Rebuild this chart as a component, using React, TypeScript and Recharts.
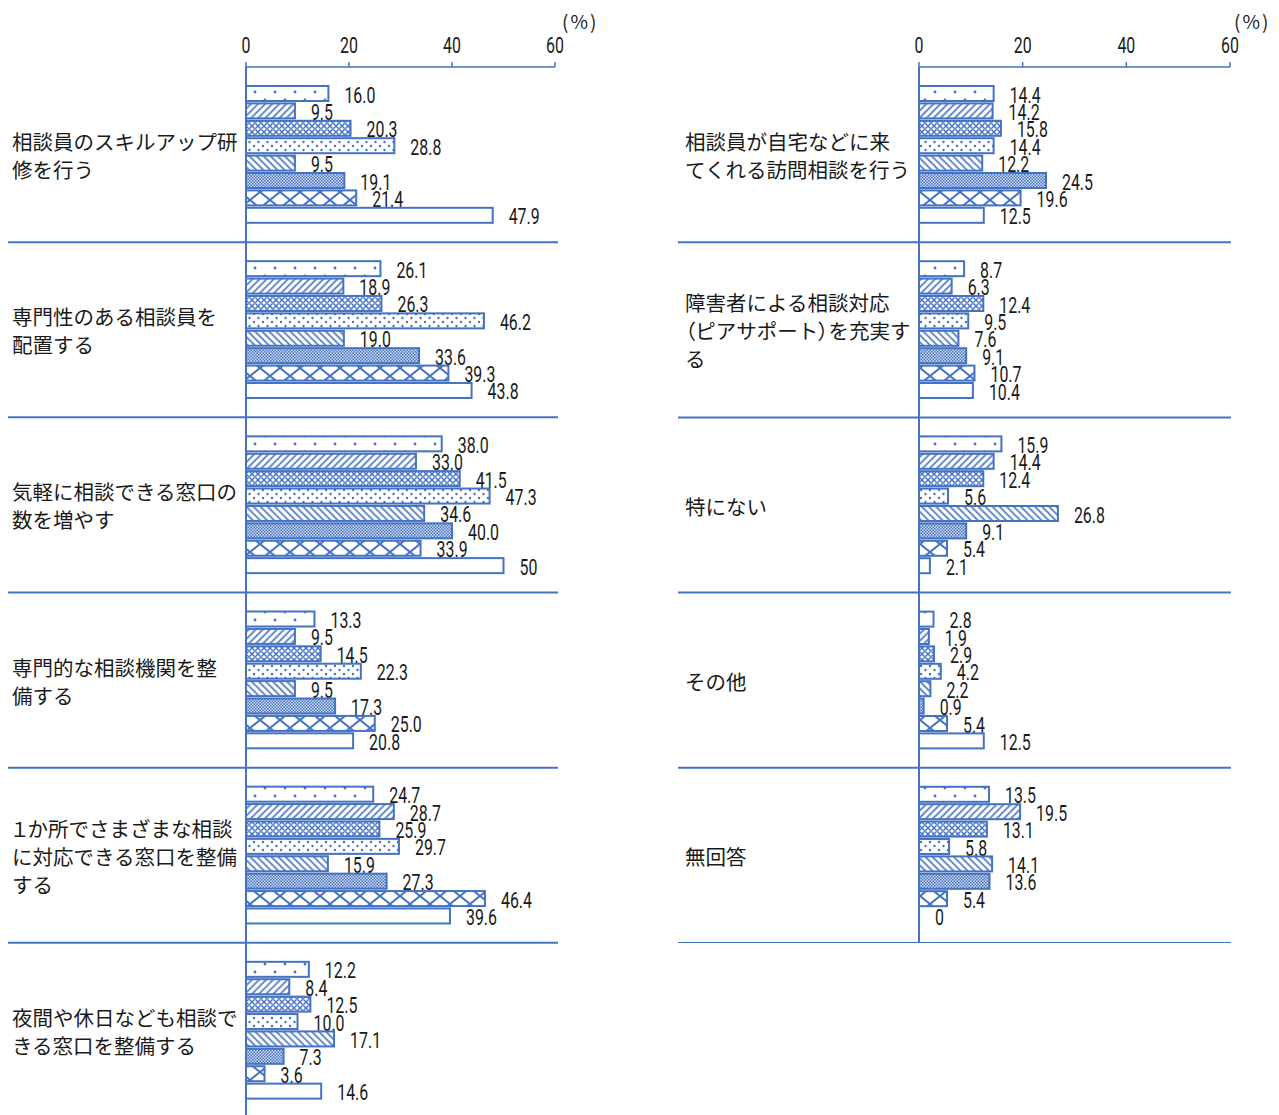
import { BarChart, Bar, XAxis, YAxis } from 'recharts';

const SERIES = ['s1', 's2', 's3', 's4', 's5', 's6', 's7', 's8'];
const PATTERNS = ['dotSparse', 'diagFwd', 'meshSmall', 'dotDense', 'diagBack', 'checker', 'meshLarge', 'plain'];
const AXIS_TICKS = [0, 20, 40, 60];

const LEFT_CATEGORIES = [
  '相談員のスキルアップ研\n修を行う',
  '専門性のある相談員を\n配置する',
  '気軽に相談できる窓口の\n数を増やす',
  '専門的な相談機関を整\n備する',
  '１か所でさまざまな相談\nに対応できる窓口を整備\nする',
  '夜間や休日なども相談で\nきる窓口を整備する',
];
const LEFT_VALUES = [
  [16.0, 9.5, 20.3, 28.8, 9.5, 19.1, 21.4, 47.9],
  [26.1, 18.9, 26.3, 46.2, 19.0, 33.6, 39.3, 43.8],
  [38.0, 33.0, 41.5, 47.3, 34.6, 40.0, 33.9, 50],
  [13.3, 9.5, 14.5, 22.3, 9.5, 17.3, 25.0, 20.8],
  [24.7, 28.7, 25.9, 29.7, 15.9, 27.3, 46.4, 39.6],
  [12.2, 8.4, 12.5, 10.0, 17.1, 7.3, 3.6, 14.6],
];

const RIGHT_CATEGORIES = [
  '相談員が自宅などに来\nてくれる訪問相談を行う',
  '障害者による相談対応\n（ピアサポート）を充実す\nる',
  '特にない',
  'その他',
  '無回答',
];
const RIGHT_VALUES = [
  [14.4, 14.2, 15.8, 14.4, 12.2, 24.5, 19.6, 12.5],
  [8.7, 6.3, 12.4, 9.5, 7.6, 9.1, 10.7, 10.4],
  [15.9, 14.4, 12.4, 5.6, 26.8, 9.1, 5.4, 2.1],
  [2.8, 1.9, 2.9, 4.2, 2.2, 0.9, 5.4, 12.5],
  [13.5, 19.5, 13.1, 5.8, 14.1, 13.6, 5.4, 0],
];

const BLUE = '#4472c4';
const BAND = 175.2;
const NUM_FONT = 'Roboto, "Liberation Sans", sans-serif';
const JP_FONT = '"Noto Sans CJK JP", "Noto Sans", sans-serif';

const toRows = (cats: string[], vals: number[][]) =>
  cats.map((name, i) => {
    const row: Record<string, any> = { name };
    SERIES.forEach((k, j) => (row[k] = vals[i][j]));
    return row;
  });

// 50 and 0 are printed without decimals in the original
const fmt = (v: number) => (v === 0 || v === 50 ? String(v) : v.toFixed(1));

// bar rect + its value label (a zero-width bar still gets its "0")
const BarWithLabel = (props: any) => {
  const { x, y, width, height, fill, payload, k } = props;
  const w = Math.max(0, Number(width) || 0);
  const tx = Number(x) + w + 16;
  const ty = Number(y) + Number(height) / 2 + 9;
  return (
    <g>
      {w > 0 && <rect x={x} y={y} width={w} height={height} fill={fill} stroke={BLUE} strokeWidth={2} />}
      <text transform={`translate(${tx},${ty}) scale(0.74,1)`} fontSize={21.5} fontFamily={NUM_FONT} fill="#1a1a1a">
        {fmt(Number(payload[k]))}
      </text>
    </g>
  );
};

const AxisTick = (props: any) => {
  const { x, payload } = props;
  return (
    <text transform={`translate(${x},53) scale(0.74,1)`} textAnchor="middle" fontSize={21.5} fontFamily={NUM_FONT} fill="#1a1a1a">
      {payload.value}
    </text>
  );
};

const CategoryTick = (props: any) => {
  const { y, payload, labelX, lineX1, lineX2 } = props;
  const lines = String(payload.value).split('\n');
  const top = y + 2 - ((lines.length - 1) * 28) / 2;
  return (
    <g>
      {lines.map((t, i) => (
        <text key={i} x={labelX} y={top + i * 28 + 7.5} fontSize={20.5} fontFamily={JP_FONT} fill="#1a1a1a">
          {t.split(/([（）１])/).map((part, j) =>
            part === '（' || part === '）' || part === '１' ? (
              <tspan key={j} style={{ fontFeatureSettings: '"palt"' }}>{part}</tspan>
            ) : (
              part
            )
          )}
        </text>
      ))}
      <line x1={lineX1} x2={lineX2} y1={y + BAND / 2} y2={y + BAND / 2} stroke={BLUE} strokeWidth={2} />
    </g>
  );
};

const Patterns = () => (
  <svg width={0} height={0} style={{ position: 'absolute' }}>
    <defs>
      <pattern id="dotSparse" patternUnits="userSpaceOnUse" width={20} height={16}>
        <rect width={20} height={16} fill="#fff" />
        <circle cx={5} cy={4} r={1.4} fill={BLUE} />
        <circle cx={15} cy={12} r={1.4} fill={BLUE} />
      </pattern>
      <pattern id="diagFwd" patternUnits="userSpaceOnUse" width={5} height={5} patternTransform="rotate(45)">
        <rect width={5} height={5} fill="#fff" />
        <line x1={1} y1={0} x2={1} y2={5} stroke={BLUE} strokeWidth={1.6} />
      </pattern>
      <pattern id="meshSmall" patternUnits="userSpaceOnUse" width={6} height={6}>
        <rect width={6} height={6} fill="#fff" />
        <path d="M0 0 L6 6 M6 0 L0 6" stroke={BLUE} strokeWidth={1.4} />
        <circle cx={3} cy={3} r={0.6} fill="#fff" />
      </pattern>
      <pattern id="dotDense" patternUnits="userSpaceOnUse" width={9} height={8}>
        <rect width={9} height={8} fill="#fff" />
        <circle cx={2} cy={2} r={1.2} fill={BLUE} />
        <circle cx={6.5} cy={6} r={1.2} fill={BLUE} />
      </pattern>
      <pattern id="diagBack" patternUnits="userSpaceOnUse" width={5} height={5} patternTransform="rotate(-45)">
        <rect width={5} height={5} fill="#fff" />
        <line x1={1} y1={0} x2={1} y2={5} stroke={BLUE} strokeWidth={1.6} />
      </pattern>
      <pattern id="checker" patternUnits="userSpaceOnUse" width={3} height={3}>
        <rect width={3} height={3} fill="#d3ddf2" />
        <rect width={1.5} height={1.5} fill={BLUE} />
        <rect x={1.5} y={1.5} width={1.5} height={1.5} fill={BLUE} />
      </pattern>
      <pattern id="meshLarge" patternUnits="userSpaceOnUse" width={20} height={16}>
        <rect width={20} height={16} fill="#fff" />
        <path d="M0 0 L20 16 M20 0 L0 16" stroke={BLUE} strokeWidth={2} />
      </pattern>
      <pattern id="plain" patternUnits="userSpaceOnUse" width={4} height={4}>
        <rect width={4} height={4} fill="#fff" />
      </pattern>
    </defs>
  </svg>
);

const Panel = ({ rows, width, height, yWidth, right, labelX, lineX1, lineX2 }: any) => (
  <BarChart
    width={width}
    height={height}
    data={rows}
    layout="vertical"
    margin={{ top: 37, right, bottom: 0, left: 0 }}
    barSize={15}
    barGap={2.4}
  >
    <XAxis
      type="number"
      orientation="top"
      domain={[0, 60]}
      ticks={AXIS_TICKS}
      height={30}
      tickSize={5}
      axisLine={{ stroke: BLUE, strokeWidth: 1.5 }}
      tickLine={{ stroke: BLUE, strokeWidth: 1.5 }}
      tick={<AxisTick />}
    />
    <YAxis
      type="category"
      dataKey="name"
      width={yWidth}
      interval={0}
      tickLine={false}
      axisLine={{ stroke: BLUE, strokeWidth: 2 }}
      tick={(p: any) => <CategoryTick {...p} labelX={labelX} lineX1={lineX1} lineX2={lineX2} />}
    />
    {SERIES.map((k, i) => (
      <Bar
        key={k}
        dataKey={k}
        fill={`url(#${PATTERNS[i]})`}
        isAnimationActive={false}
        shape={(p: any) => <BarWithLabel {...p} k={k} fill={`url(#${PATTERNS[i]})`} />}
      />
    ))}
  </BarChart>
);

export default function App() {
  const leftRows = toRows(LEFT_CATEGORIES, LEFT_VALUES);
  const rightRows = toRows(RIGHT_CATEGORIES, RIGHT_VALUES);
  return (
    <div style={{ position: 'absolute', left: 0, top: 0, width: 1279, height: 1115, overflow: 'hidden', background: '#fff' }}>
      <Patterns />
      <div style={{ position: 'absolute', left: 0, top: 0 }}>
        <Panel rows={leftRows} width={600} height={1118} yWidth={246} right={45} labelX={12} lineX1={8} lineX2={558} />
      </div>
      <div style={{ position: 'absolute', left: 640, top: 0 }}>
        <Panel rows={rightRows} width={638} height={943} yWidth={279} right={48} labelX={45} lineX1={38} lineX2={591} />
      </div>
      <div style={{ position: 'absolute', left: 562, top: 7, fontFamily: JP_FONT, fontSize: 19, color: '#222', letterSpacing: 2 }}>(%)</div>
      <div style={{ position: 'absolute', left: 1234, top: 7, fontFamily: JP_FONT, fontSize: 19, color: '#222', letterSpacing: 2 }}>(%)</div>
    </div>
  );
}
